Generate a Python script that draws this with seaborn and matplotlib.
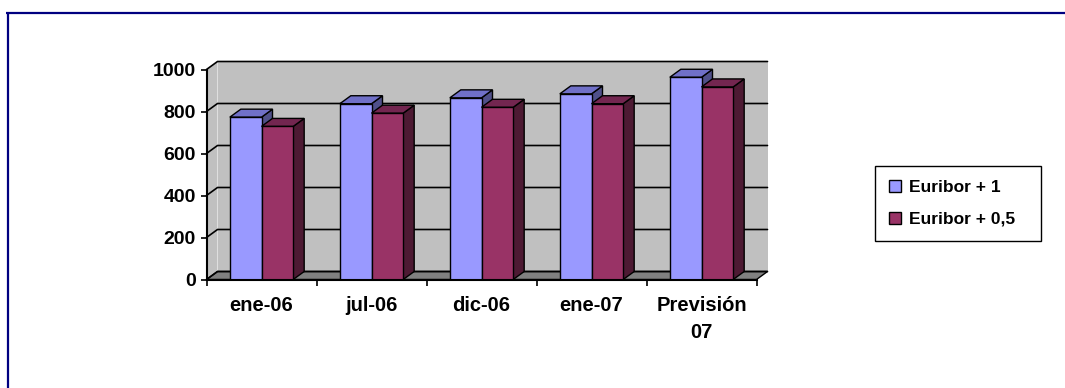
import numpy as np
import pandas as pd
import matplotlib
matplotlib.use("Agg")
import matplotlib.pyplot as plt
import seaborn as sns
from matplotlib.patches import Polygon, Patch
from matplotlib.lines import Line2D
from matplotlib.transforms import IdentityTransform

# ---------------- data ----------------
categories = ["ene-06", "jul-06", "dic-06", "ene-07", "Previsión\n07"]
series_names = ["Euribor + 1", "Euribor + 0,5"]
euribor_1 = [773, 837, 865, 884, 963]
euribor_05 = [729, 792, 820, 837, 917]
y_ticks = [0, 200, 400, 600, 800, 1000]

# ---------------- styles ----------------
front_colors = ["#9999FF", "#993366"]
top_colors = ["#7070C8", "#732650"]
side_colors = ["#50508A", "#4D1A33"]
wall_color = "#C0C0C0"
floor_color = "#808080"
frame_color = "#000080"

sns.set_theme(style="white")
plt.rcParams["font.family"] = ["Liberation Sans", "DejaVu Sans"]
plt.rcParams["font.weight"] = "bold"
plt.rcParams["text.color"] = "black"
plt.rcParams["xtick.color"] = "black"
plt.rcParams["ytick.color"] = "black"

W, H = 1065, 388
fig = plt.figure(figsize=(W / 100, H / 100), dpi=100)
fig.patch.set_facecolor("white")

x_left, x_right = 206.5, 756.5
y0_px, ytop_px = 279.5, 69.5
ax = fig.add_axes([x_left / W, 1 - y0_px / H, (x_right - x_left) / W, (y0_px - ytop_px) / H])
ax.set_facecolor("none")

df = pd.DataFrame({
    "cat": categories * 2,
    "serie": [series_names[0]] * len(categories) + [series_names[1]] * len(categories),
    "valor": euribor_1 + euribor_05,
})
sns.barplot(data=df, x="cat", y="valor", hue="serie", order=categories,
            hue_order=series_names, palette=front_colors, width=0.576,
            edgecolor="black", linewidth=1.0, saturation=1, legend=False, ax=ax)
ax.set_xlim(-0.5, 4.5)
ax.set_ylim(0, 1000)
ax.autoscale(False)

DX, DY = 11.0, 8.0
off = np.array([DX, DY])


def disp(x, y):
    return ax.transData.transform((x, y))


def add_poly(pts, fc, ec="none", lw=0.0, z=1.0):
    p = Polygon(np.array(pts), closed=True, facecolor=fc, edgecolor=ec,
                linewidth=lw, transform=IdentityTransform(), clip_on=False,
                zorder=z, joinstyle="miter")
    ax.add_patch(p)


xmin, xmax = -0.5, 4.5
ymax = y_ticks[-1]
# back wall + side wall
add_poly([disp(xmin, 0) + off, disp(xmax, 0) + off, disp(xmax, ymax) + off,
          disp(xmin, ymax) + off], wall_color, z=0.5)
add_poly([disp(xmin, 0), disp(xmin, 0) + off, disp(xmin, ymax) + off,
          disp(xmin, ymax)], wall_color, z=0.5)
# floor
add_poly([disp(xmin, 0), disp(xmax, 0), disp(xmax, 0) + off, disp(xmin, 0) + off],
         floor_color, ec="black", lw=1.0, z=0.6)
# gridlines
for v in y_ticks:
    a = disp(xmin, v)
    b = a + off
    c = disp(xmax, v) + off
    ln = Line2D([a[0], b[0], c[0]], [a[1], b[1], c[1]], color="black", lw=1.2,
                transform=IdentityTransform(), clip_on=False, zorder=0.7)
    ax.add_line(ln)

# 3D faces of bars
for j, cont in enumerate(ax.containers):
    for i, rect in enumerate(cont):
        x0 = rect.get_x()
        x1 = x0 + rect.get_width()
        h = rect.get_height()
        base = 3 + i * 10 + j * 3
        add_poly([disp(x1, 0), disp(x1, h), disp(x1, h) + off, disp(x1, 0) + off],
                 side_colors[j], ec="black", lw=1.0, z=base)
        add_poly([disp(x0, h), disp(x1, h), disp(x1, h) + off, disp(x0, h) + off],
                 top_colors[j], ec="black", lw=1.0, z=base + 0.1)
        rect.set_zorder(base + 0.2)

# axes
for s in ["top", "right"]:
    ax.spines[s].set_visible(False)
for s in ["left", "bottom"]:
    ax.spines[s].set_color("black")
    ax.spines[s].set_linewidth(1.5)
    ax.spines[s].set_zorder(100)

ax.set_yticks(y_ticks)
ax.set_yticklabels([str(v) for v in y_ticks])
ax.tick_params(axis="y", direction="out", length=4.3, width=1.2, pad=3.5,
               labelsize=14, left=True)
ax.set_xticks(np.arange(-0.5, 5.0, 1.0))
ax.set_xticklabels([])
ax.set_xticks(np.arange(len(categories)), minor=True)
ax.set_xticklabels(categories, minor=True)
ax.tick_params(axis="x", which="major", direction="out", length=4.5, width=1.2, bottom=True)
ax.tick_params(axis="x", which="minor", length=0, pad=12.0, labelsize=14.5)
for lbl in ax.get_xticklabels(minor=True):
    lbl.set_linespacing(1.5)
    lbl.set_fontweight("bold")
for lbl in ax.get_yticklabels():
    lbl.set_fontweight("bold")
ax.set_xlabel("")
ax.set_ylabel("")

# legend
handles = [Patch(facecolor=front_colors[k], edgecolor="black", linewidth=1.0,
                 label=series_names[k]) for k in range(2)]
leg = fig.legend(handles=handles, loc="upper left",
                 bbox_to_anchor=(875 / W, 1 - 239 / H, (1041 - 875) / W, (239 - 166) / H),
                 mode="expand", frameon=True, fancybox=False, edgecolor="black",
                 framealpha=1, prop={"size": 12.5, "weight": "bold"},
                 handlelength=0.7, handleheight=0.7, handletextpad=0.45,
                 labelspacing=0.95, borderpad=0.8, borderaxespad=0)
leg.get_frame().set_linewidth(1.0)

# outer frame lines
fig.add_artist(Line2D([6 / W, 1.0], [1 - 13 / H, 1 - 13 / H], color=frame_color,
                      lw=1.6, transform=fig.transFigure, solid_capstyle="butt"))
fig.add_artist(Line2D([8 / W, 8 / W], [0.0, 1 - 13 / H], color=frame_color,
                      lw=1.6, transform=fig.transFigure, solid_capstyle="butt"))

fig.savefig("out.png", dpi=100)
